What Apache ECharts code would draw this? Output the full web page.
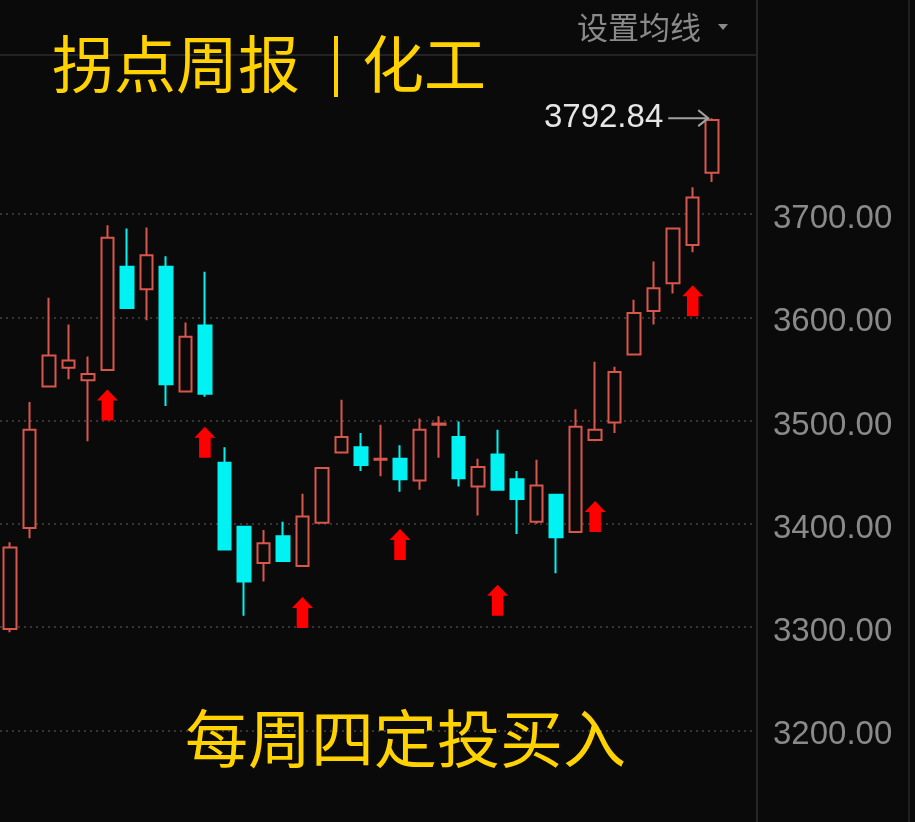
<!DOCTYPE html>
<html><head><meta charset="utf-8">
<script src="https://cdn.jsdelivr.net/npm/echarts@6/dist/echarts.min.js"></script>
<style>html,body{margin:0;padding:0;background:#0a0a0a;}#c{width:915px;height:822px;}</style>
</head><body><div id="c"></div>
<script>
// weekly categories (index only, axis hidden)
const categories = ['1','2','3','4','5','6','7','8','9','10','11','12','13','14','15','16','17','18','19','20',
  '21','22','23','24','25','26','27','28','29','30','31','32','33','34','35','36','37'];
// [open, close, low, high]
const ohlc = [
  [3298, 3377, 3295, 3382],
  [3396, 3491, 3386, 3518],
  [3533, 3563, 3533, 3619],
  [3551, 3558, 3540, 3593],
  [3539, 3545, 3480, 3562],
  [3549, 3677, 3549, 3689],
  [3649, 3609, 3609, 3686],
  [3627, 3660, 3597, 3687],
  [3649, 3535, 3514, 3659],
  [3528, 3581, 3528, 3595],
  [3592, 3526, 3523, 3644],
  [3459, 3375, 3375, 3474],
  [3397, 3344, 3311, 3397],
  [3362, 3381, 3344, 3394],
  [3388, 3364, 3364, 3402],
  [3359, 3407, 3359, 3429],
  [3401, 3454, 3401, 3454],
  [3469, 3484, 3469, 3520],
  [3474, 3457, 3451, 3488],
  [3462, 3463, 3446, 3496],
  [3463, 3443, 3431, 3476],
  [3442, 3491, 3433, 3502],
  [3496, 3497, 3464, 3504],
  [3484, 3444, 3436, 3499],
  [3436, 3455, 3408, 3463],
  [3467, 3433, 3433, 3491],
  [3443, 3424, 3390, 3451],
  [3402, 3437, 3400, 3462],
  [3428, 3387, 3352, 3428],
  [3392, 3494, 3392, 3511],
  [3481, 3491, 3480, 3557],
  [3498, 3547, 3488, 3552],
  [3564, 3604, 3564, 3617],
  [3606, 3628, 3593, 3654],
  [3633, 3686, 3623, 3686],
  [3670, 3716, 3663, 3726],
  [3740, 3791, 3731, 3792.84]
];
// buy-signal arrows (Thursday fixed investment)
const arrowIdx = [5, 10, 15, 20, 25, 30, 35];
const arrowVals = [3515, 3479, 3314, 3380, 3326, 3407, 3616];
// y tick labels: 3200.00 ... 3700.00
const yTickMin = 3200, yTickMax = 3700, yTickStep = 100;
const lastHigh = 3792.84;
const titleText = '拐点周报';
const titleText2 = '化工';
const bottomText = '每周四定投买入';
const maText = '设置均线';

// pixel scale: 1.0325 px per point, 3300 at y=627
const PX = 1.0325, Y0V = 3300, Y0P = 627;
const pix = v => Y0P - (v - Y0V) * PX;
const cMin = 3120, cMax = 3850;

const chart = echarts.init(document.getElementById('c'), null, {renderer: 'canvas'});
const arrowData = arrowIdx.map((i, k) => [i, arrowVals[k]]);
const RED = '#d9564c', CYAN = '#00f2f2', BG = '#0a0a0a';
const option = {
  backgroundColor: BG,
  animation: false,
  grid: [
    {left: -5, width: 727, top: pix(cMax), height: pix(cMin) - pix(cMax)},
    {left: 0, width: 757, top: pix(yTickMax), height: pix(yTickMin) - pix(yTickMax)}
  ],
  xAxis: [
    {type: 'category', data: categories, gridIndex: 0, show: false, boundaryGap: true},
    {type: 'value', gridIndex: 1, show: false, min: 0, max: 1}
  ],
  yAxis: [
    {type: 'value', gridIndex: 0, min: cMin, max: cMax, show: false, splitLine: {show: false}},
    {type: 'value', gridIndex: 1, min: yTickMin, max: yTickMax, interval: yTickStep, position: 'right',
      axisLine: {show: false}, axisTick: {show: false},
      axisLabel: {show: true, margin: 16, formatter: v => '{a|' + v.toFixed(2) + '}',
        rich: {a: {color: '#8a8a8a', fontSize: 33, fontFamily: 'Liberation Sans', padding: [10, 0, 0, 0]}}},
      splitLine: {show: true, lineStyle: {color: '#454545', type: [2, 4], width: 1.5}}}
  ],
  series: [
    {type: 'candlestick', xAxisIndex: 0, yAxisIndex: 0, data: ohlc, barWidth: 13,
      itemStyle: {color: BG, color0: CYAN, borderColor: RED, borderColor0: CYAN, borderWidth: 2}},
    {type: 'scatter', xAxisIndex: 0, yAxisIndex: 0, data: arrowData,
      symbol: 'path://M10,0 L20,11 L15.5,11 L15.5,31 L4.5,31 L4.5,11 L0,11 Z',
      symbolSize: [21, 31], itemStyle: {color: '#ff0000', opacity: 1}}
  ]
};
chart.setOption(option);

const p = chart.convertToPixel({xAxisIndex: 0, yAxisIndex: 0}, [ohlc.length - 1, lastHigh]);
const Y = '#ffd200';
chart.setOption({
  graphic: [
    {type: 'line', shape: {x1: 0, y1: 55, x2: 757, y2: 55}, style: {stroke: '#2c2c2c', lineWidth: 1.5}, z: 1},
    {type: 'line', shape: {x1: 757, y1: 0, x2: 757, y2: 822}, style: {stroke: '#262626', lineWidth: 2}, z: 1},
    {type: 'line', shape: {x1: 909, y1: 0, x2: 909, y2: 822}, style: {stroke: '#1e1e1e', lineWidth: 2}, z: 1},
    {type: 'text', x: 52, y: 64, style: {text: titleText, fill: Y, font: '62px "Noto Sans CJK SC"', textVerticalAlign: 'middle'}, z: 100},
    {type: 'line', shape: {x1: 336, y1: 36, x2: 336, y2: 97}, style: {stroke: Y, lineWidth: 4}, z: 100},
    {type: 'text', x: 362, y: 64, style: {text: titleText2, fill: Y, font: '62px "Noto Sans CJK SC"', textVerticalAlign: 'middle'}, z: 100},
    {type: 'text', x: 185, y: 738, style: {text: bottomText, fill: Y, font: '63px "Noto Sans CJK SC"', textVerticalAlign: 'middle'}, z: 100},
    {type: 'text', x: 577, y: 27, style: {text: maText, fill: '#8a8a8a', font: '31px "Noto Sans CJK SC"', textVerticalAlign: 'middle'}, z: 100},
    {type: 'polygon', shape: {points: [[718, 24], [728, 24], [723, 30]]}, style: {fill: '#8a8a8a'}, z: 100},
    {type: 'text', x: p[0] - 49, y: p[1], style: {text: lastHigh.toFixed(2), fill: '#e6e6e6', font: '33px "Liberation Sans"', textAlign: 'right', textVerticalAlign: 'middle'}, z: 100},
    {type: 'polyline', shape: {points: [[p[0] - 44, p[1]], [p[0] - 4, p[1]]]}, style: {stroke: '#a0a0a0', lineWidth: 2}, z: 100},
    {type: 'polyline', shape: {points: [[p[0] - 14, p[1] - 8], [p[0] - 4, p[1]], [p[0] - 14, p[1] + 8]]}, style: {stroke: '#a0a0a0', lineWidth: 2, fill: null}, z: 100}
  ]
});
</script>
</body></html>
